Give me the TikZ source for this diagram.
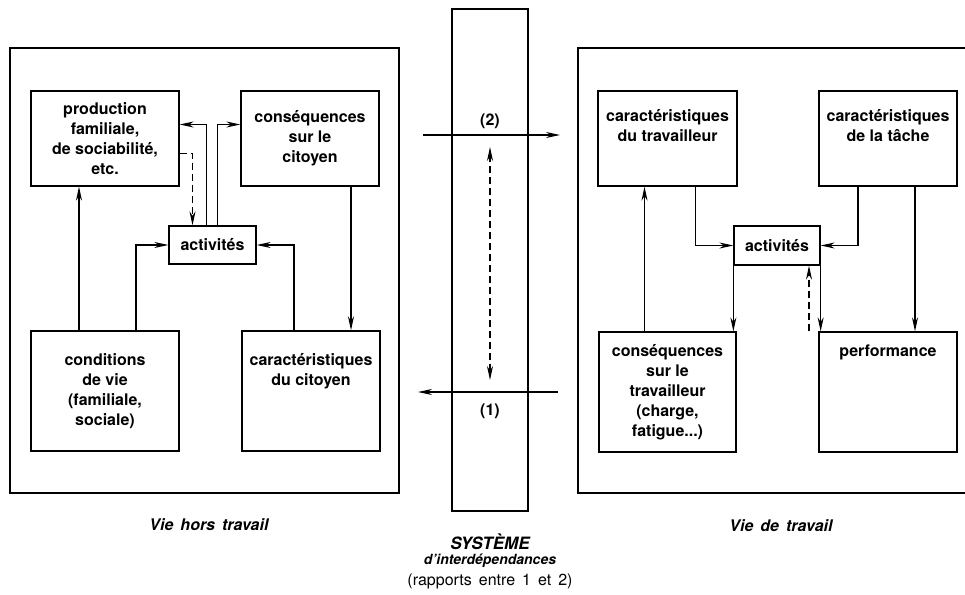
\documentclass[tikz,border=0pt]{standalone}
\usepackage{fontspec}
\setmainfont{TeX Gyre Heros}
\usetikzlibrary{arrows.meta,positioning}

\newcommand\largespc{\spaceskip 7pt\relax}

\tikzset{
  box/.style={draw, line width=1.3pt, inner sep=0pt, align=center, font=\fontsize{16}{20}\selectfont\bfseries},
  boxlbl/.style={anchor=north, inner sep=0pt, align=center, font=\fontsize{16}{20}\selectfont\bfseries},
  frame/.style={line width=1.8pt},
  conn/.style={-{Stealth[length=14pt,width=6pt]}, line width=1.1pt},
  back/.style={conn, dash pattern=on 7pt off 4pt},
  both/.style={{Stealth[length=14pt,width=6pt]}-{Stealth[length=14pt,width=6pt]}},
  num/.style={font=\fontsize{16}{20}\selectfont\bfseries},
  caption/.style={font=\fontsize{16}{18}\selectfont\bfseries\itshape\largespc},
}

\begin{document}
\begin{tikzpicture}[x=1pt, y=-1pt]
  \useasboundingbox (0,0) rectangle (965,594);

  % cadres
  \draw[frame] (10,48) rectangle (399,493);
  \draw[frame] (965,48) -| (578,493) -- (965,493);
  \node[box, minimum width=76pt, minimum height=502pt] (sys) at (490,260) {};

  % vie hors travail
  \node[box, minimum width=148pt, minimum height=95pt]  (prod)   at (105,138.5) {production\\familiale,\\de sociabilité,\\etc.};
  \node[box, minimum width=138pt, minimum height=95pt]  (csqcit) at (310,138.5) {conséquences\\sur le\\citoyen};
  \node[box, minimum width=87pt,  minimum height=38pt]  (actL)   at (212.5,245) {activités};
  \node[box, minimum width=148pt, minimum height=120pt] (condv)  at (105,391)   {conditions\\de vie\\(familiale,\\sociale)};
  \node[box, minimum width=138pt, minimum height=120pt,
        label={[boxlbl,yshift=-23pt]north:caractéristiques\\du citoyen}] (carcit) at (311,391) {};

  % vie de travail
  \node[box, minimum width=139pt, minimum height=95pt,
        label={[boxlbl,yshift=-19pt]north:caractéristiques\\du travailleur}] (cartrav) at (667.5,138.5) {};
  \node[box, minimum width=138pt, minimum height=95pt,
        label={[boxlbl,yshift=-19pt]north:caractéristiques\\de la tâche}] (cartache) at (888,138.5) {};
  \node[box, minimum width=86pt,  minimum height=39pt]  (actR)    at (777,245.5) {activités};
  \node[box, minimum width=137pt, minimum height=120pt] (csqtrav) at (667.5,392) {conséquences\\sur le\\travailleur\\(charge,\\fatigue...)};
  \node[box, minimum width=138pt, minimum height=120pt,
        label={[boxlbl,yshift=-13pt]north:performance}] (perf) at (888,392) {};

  % liaisons hors travail
  \draw[conn] ([xshift=-26pt]condv.north) -- ([xshift=-26pt]prod.south);
  \draw[conn] ([xshift=31pt]condv.north) |- (actL.west);
  \draw[conn] ([xshift=-17pt]carcit.north) |- (actL.east);
  \draw[conn] ([xshift=41pt]csqcit.south) -- ([xshift=40pt]carcit.north);
  \draw[conn] ([xshift=-6pt]actL.north) |- ([yshift=14pt]prod.east);
  \draw[conn] ([xshift=5pt]actL.north) |- ([yshift=14pt]csqcit.west);
  \draw[back] ([yshift=-15pt]prod.east) -| ([xshift=-20pt]actL.north);

  % liaisons travail
  \draw[conn] ([xshift=28pt]cartrav.south) |- (actR.west);
  \draw[conn] ([xshift=-30pt]cartache.south) |- (actR.east);
  \draw[conn] ([xshift=27pt]cartache.south) -- ([xshift=27pt]perf.north);
  \draw[conn] ([xshift=-23pt]csqtrav.north) -- ([xshift=-23pt]cartrav.south);
  \draw[conn] (actR.south west) -- (actR.south west |- csqtrav.north);
  \draw[conn] (actR.south east) -- (actR.south east |- perf.north);
  \draw[back] ([xshift=-79pt]perf.north) -- ([xshift=32pt]actR.south);

  % systeme
  \coordinate (e2) at (423,135);
  \coordinate (s2) at (560,135);
  \coordinate (e1) at (558,392);
  \coordinate (s1) at (418,392);
  \coordinate (d1) at (490,147);
  \coordinate (d2) at (490,380);
  \draw[conn] (e2) -- (s2);
  \draw[conn] (e1) -- (s1);
  \draw[back,both] (d2) -- (d1);
  \node[num] (n2) at (490,121) {(2)};
  \node[num] (n1) at (490,411) {(1)};

  % legendes
  \node[caption] (vht) at (209,525) {Vie hors travail};
  \node[caption] (vdt) at (781,526) {Vie de travail};
  \node[font=\fontsize{17}{18}\selectfont\bfseries\itshape] (syst) at (490,542) {SYSTÈME};
  \node[font=\fontsize{14}{16}\selectfont\bfseries\itshape] (interd) at (490,561) {d'interdépendances};
  \node[font=\fontsize{16}{18}\selectfont\largespc] (rapp) at (490,581) {(rapports entre 1 et 2)};
\end{tikzpicture}
\end{document}
